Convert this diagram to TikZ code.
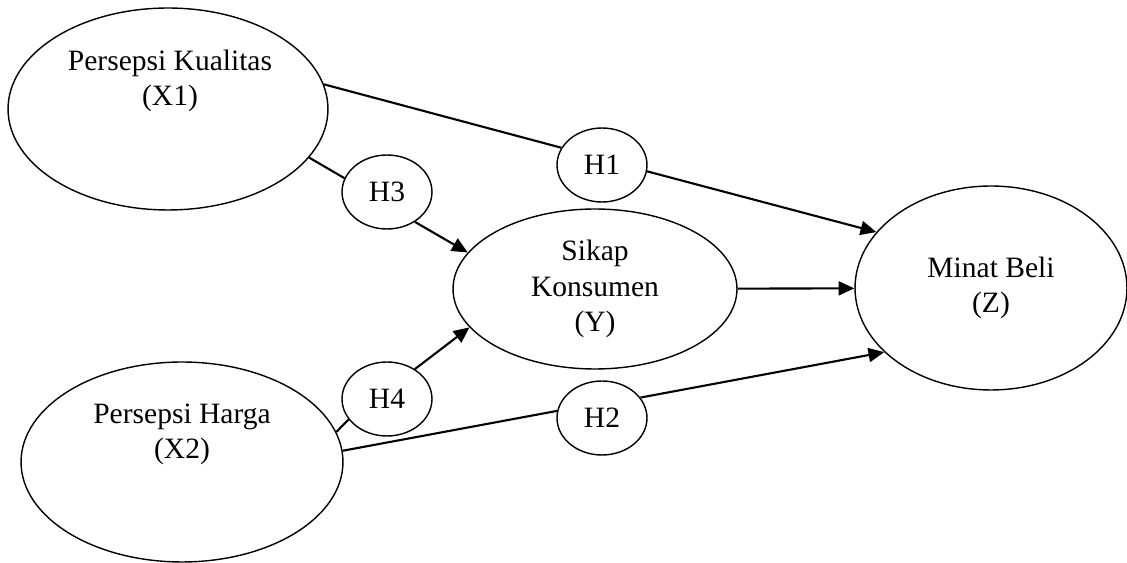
\documentclass[tikz,border=0pt]{standalone}
\usepackage{fontspec}
\setmainfont{Liberation Serif}
\usetikzlibrary{shapes.geometric,arrows.meta}

\begin{document}
\begin{tikzpicture}[x=0.02cm, y=-0.02cm,
    latent/.style={ellipse, draw, line width=0.8pt, align=center, inner sep=0pt},
    hypo/.style={ellipse, draw, line width=0.8pt, minimum width=1.8cm, minimum height=1.48cm, inner sep=0pt},
    link/.style={line width=1.2pt},
    arrow/.style={-{Triangle[length=9pt, width=8pt]}, line width=1.2pt},
    every node/.style={font=\fontsize{16.8}{20}\selectfont}
]
    \useasboundingbox (0,0) rectangle (1127,563);

    % Variables
    \node[latent, minimum width=6.4cm, minimum height=4.04cm] (x1) at (168,109) {};
    \node[align=center] (x1txt) at (170,81) {Persepsi Kualitas\\(X1)};
    \node[latent, minimum width=6.44cm, minimum height=4cm] (x2) at (182,462) {};
    \node[align=center] (x2txt) at (182,434) {Persepsi Harga\\(X2)};
    \node[latent, minimum width=5.68cm, minimum height=3.2cm] (sy) at (595,289) {Sikap\\Konsumen\\(Y)};
    \node[latent, minimum width=5.44cm, minimum height=4.08cm] (mb) at (991,288) {Minat Beli\\(Z)};

    % Hypotheses
    \node[hypo] (h1) at (602,165) {H1};
    \node[hypo] (h3) at (387,192) {H3};
    \node[hypo] (h4) at (387,399) {H4};
    \node[hypo] (h2) at (602,418) {H2};

    % Paths
    \draw[link] (x1.9) -- (h1.157);
    \draw[arrow] (h1.-8) -- (mb.154);
    \draw[link] (x1.-19) -- (h3.162);
    \draw[arrow] (h3.-47) -- (sy.164);
    \draw[link] (x2.11) -- (h4.208);
    \draw[arrow] (h4.47) -- (sy.197);
    \draw[link] (x2.4) -- (h2.171);
    \draw[arrow] (h2.28) -- (mb.211);
    \draw[arrow] (sy) -- (mb);
\end{tikzpicture}
\end{document}
